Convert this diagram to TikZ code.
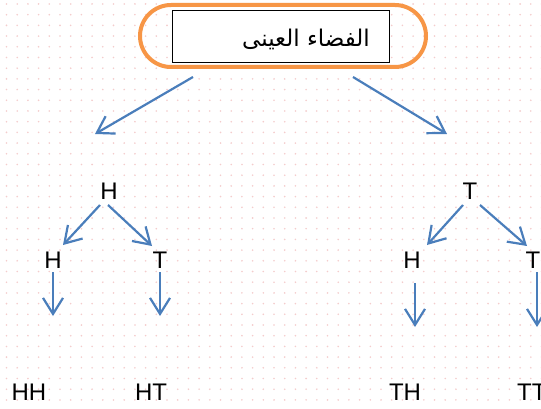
\documentclass[tikz,border=0pt]{standalone}
\usepackage{fontspec}
\setmainfont{Liberation Sans}
\newfontfamily\arabicfont[Script=Arabic]{DejaVu Sans}
\TeXXeTstate=1
\usetikzlibrary{arrows.meta}
\definecolor{arrowblue}{RGB}{74,126,187}
\definecolor{frameorange}{RGB}{247,150,70}
\definecolor{dotpink}{RGB}{244,204,204}
\begin{document}
\begin{tikzpicture}[x=1pt,y=-1pt,
  lbl/.style={font=\fontsize{24}{26}\selectfont, inner sep=0pt},
  arr/.style={draw=arrowblue, line width=2.2pt,
    -{Straight Barb[length=16pt,width=20pt,line width=2.2pt]}}]
\useasboundingbox (0,0) rectangle (541,409);
\fill[white] (0,0) rectangle (541,409);
\foreach \i in {0,...,50}{\foreach \j in {0,...,38}{\fill[dotpink] (6.5+10.7*\i,4+10.7*\j) circle (0.9pt);}}
% header
\node[draw=frameorange, line width=4pt, rounded corners=31pt,
      minimum width=286pt, minimum height=62pt, inner sep=0pt] (frame) at (283,36) {};
\node[draw=black, line width=0.8pt, fill=white, minimum width=217pt, minimum height=52pt,
      inner sep=0pt] (box) at (280.5,36) {};
\node[inner sep=0pt, font=\arabicfont\fontsize{23}{26}\selectfont] (title) at (306,39)
      {\beginR الفضاء العينى\endR};
% labels
\node[lbl] (H1) at (109,191) {H};
\node[lbl] (T1) at (470,191) {T};
\node[lbl] (HH1) at (53,260) {H};
\node[lbl] (HT1) at (160,260) {T};
\node[lbl] (TH1) at (412,260) {H};
\node[lbl] (TT1) at (533,260) {T};
\node[lbl] (HH) at (29,392) {HH};
\node[lbl] (HT) at (151,392) {HT};
\node[lbl] (TH) at (405,392) {TH};
\node[lbl, anchor=west] (TT) at (517,392) {TT};
% connector ends
\coordinate (fL) at (193,77); \coordinate (fLe) at (95,134);
\coordinate (fR) at (353,77); \coordinate (fRe) at (447,134);
\coordinate (h1a) at (100,205); \coordinate (h1ae) at (63,245);
\coordinate (h1b) at (108,205); \coordinate (h1be) at (152,246);
\coordinate (t1a) at (463,205); \coordinate (t1ae) at (427,245);
\coordinate (t1b) at (480,205); \coordinate (t1be) at (527,246);
\coordinate (d1) at (53,272); \coordinate (d1e) at (53,316);
\coordinate (d2) at (160,272); \coordinate (d2e) at (160,316);
\coordinate (d3) at (415,283); \coordinate (d3e) at (415,327);
\coordinate (d4) at (537,272); \coordinate (d4e) at (537,327);
\draw[arr] (fL) -- (fLe);
\draw[arr] (fR) -- (fRe);
\draw[arr] (h1a) -- (h1ae);
\draw[arr] (h1b) -- (h1be);
\draw[arr] (t1a) -- (t1ae);
\draw[arr] (t1b) -- (t1be);
\draw[arr] (d1) -- (d1e);
\draw[arr] (d2) -- (d2e);
\draw[arr] (d3) -- (d3e);
\draw[arr] (d4) -- (d4e);
\end{tikzpicture}
\end{document}
